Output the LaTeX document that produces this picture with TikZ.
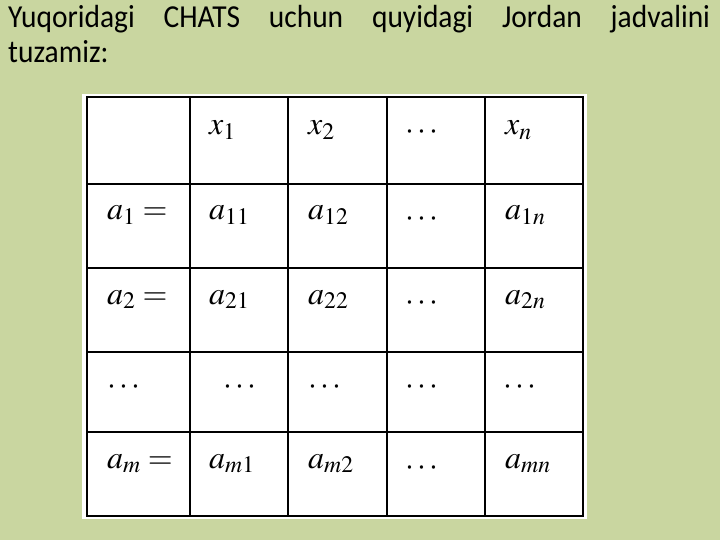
\documentclass[tikz,border=0pt]{standalone}
\usepackage{mathptmx}
\usepackage{fontspec}
\setmainfont{Carlito}[FakeStretch=0.92]
\definecolor{slidegreen}{RGB}{201,214,160}
\begin{document}
\begin{tikzpicture}[x=1pt,y=-1pt,
  cell/.style={anchor=base west,inner sep=0pt,font=\fontsize{32}{38}\selectfont},
  gridline/.style={line width=1.8pt,black}]

\useasboundingbox (0,0) rectangle (720,540);
\fill[slidegreen] (0,0) rectangle (720,540);

\node[anchor=base west,inner sep=0pt,text width=702pt,align=justify,
  font=\fontsize{32}{35}\selectfont] (title) at (8,28)
  {Yuqoridagi CHATS uchun quyidagi Jordan jadvalini\linebreak tuzamiz:};

\fill[white] (82,94) rectangle (587,519);

\draw[gridline] (87,97) rectangle (583,516);
\draw[gridline] (190,97) -- (190,516);
\draw[gridline] (288,97) -- (288,516);
\draw[gridline] (387,97) -- (387,516);
\draw[gridline] (485,97) -- (485,516);
\draw[gridline] (87,184) -- (583,184);
\draw[gridline] (87,268) -- (583,268);
\draw[gridline] (87,352) -- (583,352);
\draw[gridline] (87,432) -- (583,432);

\node[cell] (x1) at (209,135) {$x_1$};
\node[cell] (x2) at (308,135) {$x_2$};
\node[cell] (xd) at (405,140) {$\cdots$};
\node[cell] (xn) at (505,135) {$x_n$};

\node[cell] (a1) at (107,220) {$a_1 =$};
\node[cell] (a11) at (209,220) {$a_{11}$};
\node[cell] (a12) at (308,220) {$a_{12}$};
\node[cell] (a1d) at (405,226) {$\cdots$};
\node[cell] (a1n) at (505,220) {$a_{1n}$};

\node[cell] (a2) at (107,304) {$a_2 =$};
\node[cell] (a21) at (209,304) {$a_{21}$};
\node[cell] (a22) at (308,304) {$a_{22}$};
\node[cell] (a2d) at (405,310) {$\cdots$};
\node[cell] (a2n) at (505,304) {$a_{2n}$};

\node[cell] (dd) at (107,394) {$\cdots$};
\node[cell] (dd1) at (223,394) {$\cdots$};
\node[cell] (dd2) at (308,394) {$\cdots$};
\node[cell] (ddd) at (405,394) {$\cdots$};
\node[cell] (ddn) at (503,394) {$\cdots$};

\node[cell] (am) at (107,468) {$a_m =$};
\node[cell] (am1) at (209,468) {$a_{m1}$};
\node[cell] (am2) at (308,468) {$a_{m2}$};
\node[cell] (amd) at (405,475) {$\cdots$};
\node[cell] (amn) at (505,468) {$a_{mn}$};
\end{tikzpicture}
\end{document}
